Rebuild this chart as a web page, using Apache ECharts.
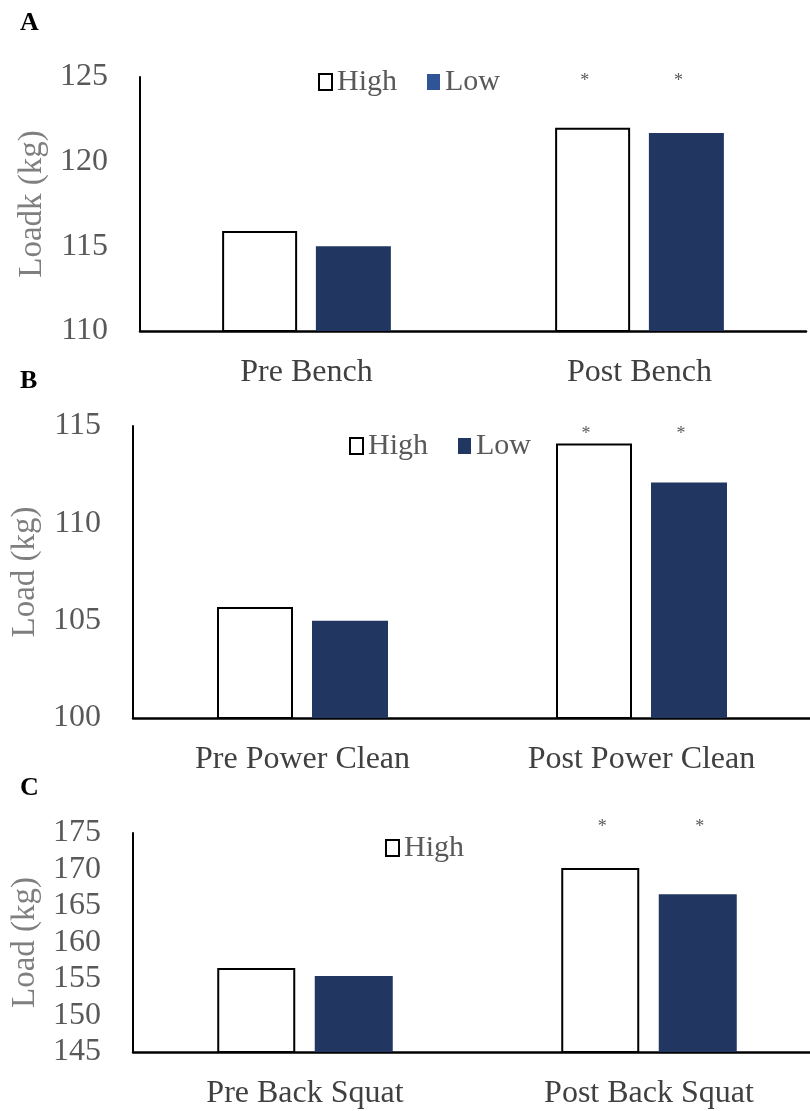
<!DOCTYPE html>
<html><head><meta charset="utf-8">
<script src="https://cdn.jsdelivr.net/npm/echarts@6/dist/echarts.min.js"></script>
<style>html,body{margin:0;padding:0;background:#fff}#c{width:810px;height:1111px}</style>
</head><body><div id="c"></div>
<script>
// ---- data ----
const catsA = ['Pre Bench', 'Post Bench'];
const highA = [115.9, 122.0];
const lowA = [115.0, 121.7];
const catsB = ['Pre Power Clean', 'Post Power Clean'];
const highB = [105.7, 114.1];
const lowB = [105.0, 112.1];
const catsC = ['Pre Back Squat', 'Post Back Squat'];
const highC = [156.5, 170.2];
const lowC = [155.4, 166.6];
const yTitles = ['Loadk (kg)', 'Load (kg)', 'Load (kg)'];
const panelLetters = ['A', 'B', 'C'];
const yMin = [110, 100, 145];
const yMax = [125, 115, 175];
const yStep = [5, 5, 5];
const starIdx = [1];                 // categories marked significant (*)
const starVal = [125, 114.75, 175];  // height at which * is drawn
const legendNames = [['High', 'Low'], ['High', 'Low'], ['High']];

// ---- layout ----
const FONT = '"Liberation Serif","Times New Roman",serif';
const grids = [
  {left: 140, top: 77, right: 4, height: 254, outerBoundsMode: 'none'},
  {left: 133, top: 426, right: -1, height: 292, outerBoundsMode: 'none'},
  {left: 133, top: 833, right: -11, height: 219, outerBoundsMode: 'none'}
];
const barW = [75, 76, 78];
const starOffset = [[-8, 4], [-8, 3], [2, -6]];
const nameGaps = [88, 84, 86];
const legendPos = [{left: 313, top: 62}, {left: 344, top: 426}, {left: 380, top: 828}];
const legendLowColor = ['#2F5597', '#213761', '#213761'];
const letterTop = [10, 368, 775];

const cats = [catsA, catsB, catsC];
const highs = [highA, highB, highC];
const lows = [lowA, lowB, lowC];

const xAxes = [], yAxes = [], series = [], legends = [], graphics = [];
for (let p = 0; p < 3; p++) {
  xAxes.push({
    type: 'category', gridIndex: p, data: cats[p],
    axisLine: {lineStyle: {color: '#000', width: 2.5}},
    axisTick: {show: false},
    axisLabel: {fontFamily: FONT, fontSize: 32, color: '#404040', margin: 26}
  });
  yAxes.push({
    type: 'value', gridIndex: p, min: yMin[p], max: yMax[p], interval: yStep[p],
    axisLine: {show: true, lineStyle: {color: '#000', width: 2}},
    axisTick: {show: false}, splitLine: {show: false},
    axisLabel: {fontFamily: FONT, fontSize: 32, color: '#595959', margin: 32},
    name: yTitles[p], nameLocation: 'middle', nameRotate: 90, nameGap: nameGaps[p],
    nameTextStyle: {fontFamily: FONT, fontSize: 33, color: '#7f7f7f'}
  });
  const mp = {
    symbol: 'rect', symbolSize: 1,
    itemStyle: {color: 'rgba(0,0,0,0)'},
    label: {show: true, position: 'inside', formatter: '*', fontFamily: FONT,
            fontSize: 18, color: '#595959', offset: starOffset[p]},
    data: starIdx.map(i => ({coord: [cats[p][i], starVal[p]]}))
  };
  series.push({
    type: 'bar', name: 'High', xAxisIndex: p, yAxisIndex: p, data: highs[p],
    barWidth: barW[p], barGap: '25%',
    itemStyle: {color: '#ffffff', borderColor: '#000', borderWidth: 2},
    markPoint: mp
  });
  series.push({
    type: 'bar', name: 'Low', xAxisIndex: p, yAxisIndex: p, data: lows[p],
    barWidth: barW[p], barGap: '25%',
    itemStyle: {color: '#213761'},
    markPoint: mp
  });
  legends.push({
    left: legendPos[p].left, top: legendPos[p].top, selectedMode: false,
    itemWidth: 13, itemHeight: 16, itemGap: 30, icon: 'rect',
    textStyle: {fontFamily: FONT, fontSize: 30, color: '#595959'},
    data: legendNames[p].map(n => n === 'High'
      ? {name: n, itemStyle: {color: '#fff', borderColor: '#000', borderWidth: 2}}
      : {name: n, itemStyle: {color: legendLowColor[p], borderWidth: 0}})
  });
  graphics.push({
    type: 'text', left: 20, top: letterTop[p],
    style: {text: panelLetters[p], font: 'bold 26px ' + FONT, fill: '#000'}
  });
}

const chart = echarts.init(document.getElementById('c'), null, {renderer: 'canvas'});
chart.setOption({
  animation: false,
  backgroundColor: '#fff',
  grid: grids,
  xAxis: xAxes,
  yAxis: yAxes,
  legend: legends,
  series: series,
  graphic: graphics
});
</script>
</body></html>
